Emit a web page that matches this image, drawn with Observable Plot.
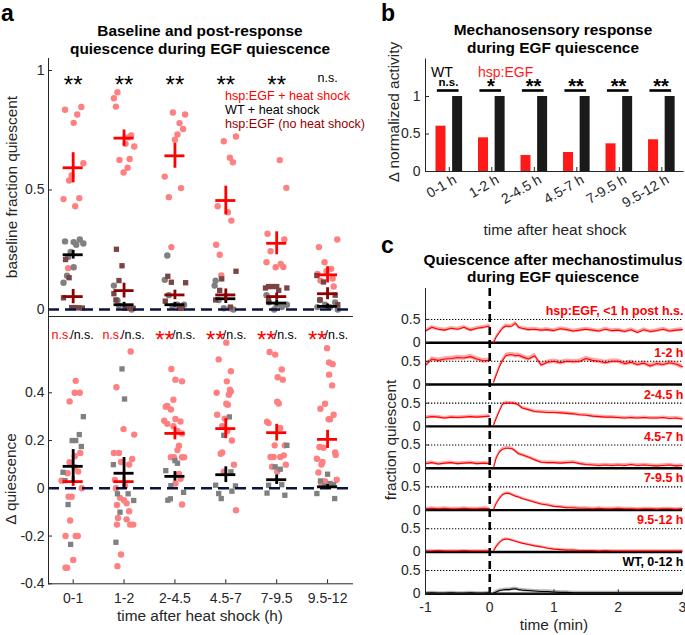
<!DOCTYPE html>
<html><head><meta charset="utf-8">
<script src="https://cdn.jsdelivr.net/npm/d3@7"></script>
<script src="https://cdn.jsdelivr.net/npm/@observablehq/plot@0.6"></script>
<style>
html,body{margin:0;padding:0;background:#fff;}
#fig{position:relative;width:685px;height:635px;overflow:hidden;background:#fff;}
.panel{position:absolute;}
</style></head><body><div id="fig"></div>
<script>
// ---------------- DATA ----------------
const catsA = ["0-1","1-2","2-4.5","4.5-7","7-9.5","9.5-12"];
// panel a (top): baseline fraction quiescent, [jitter, value]
const hspHS_base = [
 [[-0.16,0.836],[0.16,0.847],[0.08,0.816],[0.01,0.781],[0.2,0.612],[-0.03,0.561],[-0.08,0.54],[-0.19,0.462],[0.12,0.466],[0.04,0.432],[-0.1,0.173]],
 [[-0.13,0.909],[-0.2,0.884],[-0.16,0.849],[0.14,0.728],[0.2,0.682],[0.03,0.693],[-0.09,0.626],[0.11,0.63],[0.07,0.593],[-0.01,0.573],[0.08,0.72]],
 [[-0.04,0.824],[0.2,0.816],[0.09,0.78],[0.16,0.755],[0.05,0.732],[0,0.71],[-0.2,0.556],[0.12,0.508],[-0.12,0.47],[-0.07,0.261]],
 [[-0.04,0.704],[0.2,0.724],[0.08,0.635],[0.14,0.616],[-0.16,0.432],[0.04,0.407],[0.11,0.372],[-0.19,0.271],[-0.12,0.229],[-0.09,0.142]],
 [[0.06,0.625],[0.19,0.509],[-0.18,0.317],[0.15,0.293],[-0.12,0.244],[-0.2,0.198],[-0.02,0.177],[0.08,0.191],[0.13,0.178]],
 [[0.19,0.293],[-0.17,0.261],[-0.06,0.198],[0.07,0.17],[-0.14,0.121],[0.12,0.096],[-0.02,0.16],[-0.2,0.149],[0.1,0.13]]
];
const wt_base = [
 [[-0.16,0.285],[0.01,0.282],[0.13,0.293],[0.2,0.276],[0.06,0.271],[-0.05,0.241],[0.01,0.177],[-0.12,0.141],[-0.19,0.112],[-0.1,0.22]],
 [[-0.2,0.1],[-0.13,0.038],[-0.1,0.017],[0.05,0.01],[0.15,0.0]],
 [[-0.15,0.226],[-0.2,0.124],[0.05,0.02],[0.1,0.01],[-0.05,0.015],[0.18,0.02],[-0.12,0.06]],
 [[-0.2,0.121],[-0.22,0.1],[-0.14,0.04],[-0.04,0.005],[0.09,0.005],[0.15,0.0]],
 [[-0.2,0.06],[-0.15,0.03],[0.0,0.02],[0.1,0.01],[0.2,0.02],[-0.05,0.0]],
 [[-0.15,0.04],[-0.05,0.02],[0.05,0.01],[0.15,0.03],[0.2,0.0],[-0.2,0.01]]
];
const noHS_base = [
 [[-0.15,0.209],[-0.08,0.133],[-0.19,0.049],[-0.03,0.008],[0.05,0.008],[0.18,0.006],[0.11,0.007]],
 [[-0.15,0.252],[-0.04,0.183],[-0.1,0.121],[-0.2,0.066],[0.08,0.005],[0.18,0.005],[0.02,0.005],[-0.16,0.04]],
 [[-0.14,0.139],[0.21,0.112],[-0.07,0.114],[-0.19,0.035],[0.09,0.005],[0.14,0.005]],
 [[0.2,0.16],[-0.08,0.128],[-0.2,0.04],[0.09,0.01],[-0.12,0.08]],
 [[-0.16,0.096],[-0.09,0.096],[-0.22,0.09],[0.0,0.096],[0.2,0.09],[0.04,0.08],[-0.16,0.04]],
 [[-0.21,0.142],[-0.08,0.115],[0.15,0.06],[0.2,0.02],[-0.15,0.04]]
];
const hspHS_mean = [0.593,0.717,0.643,0.456,0.277,0.145];
const hspHS_err  = [0.063,0.034,0.052,0.06,0.048,0.034];
const wt_mean    = [0.229,0.02,0.02,0.045,0.027,0.013];
const wt_err     = [0.018,0.01,0.01,0.02,0.012,0.01];
const noHS_mean  = [0.054,0.079,0.061,0.061,0.054,0.066];
const noHS_err   = [0.03,0.031,0.02,0.025,0.015,0.025];
const sigTop = ["**","**","**","**","**","n.s."];

// panel a (bottom): delta quiescence
const hsp_delta = [
 [[0.05,0.45],[-0.07,0.364],[0.03,0.4],[0.13,0.4],[0.14,0.148],[0.03,0.134],[-0.07,0.109],[0.03,0.088],[-0.11,0.063],[0.1,0.07],[-0.23,0.032],[0.17,0.0],[-0.09,-0.035],[-0.03,-0.035],[-0.06,-0.135],[-0.15,-0.2],[0.05,-0.2],[0.09,-0.2],[0,-0.3],[-0.15,-0.333],[-0.12,-0.333]],
 [[0.13,0.573],[-0.15,0.423],[-0.01,0.248],[0.2,0.225],[-0.2,0.148],[-0.1,0.148],[0.16,0.123],[-0.06,0.11],[0.1,0.1],[-0.18,0.035],[0.02,0.01],[-0.16,0.0],[-0.08,-0.04],[0,-0.05],[-0.14,-0.07],[0.05,-0.063],[0.1,-0.096],[-0.12,-0.124],[0.05,-0.13],[0.12,-0.152],[0.18,-0.152],[-0.14,-0.152],[-0.06,-0.277],[-0.13,-0.326]],
 [[-0.07,0.5],[0.14,0.448],[0.01,0.455],[-0.03,0.371],[-0.18,0.342],[-0.15,0.345],[-0.08,0.33],[0.01,0.29],[0.11,0.28],[-0.21,0.283],[-0.15,0.27],[-0.03,0.26],[0.05,0.24],[0.14,0.23],[0.08,0.178],[0.05,0.16],[-0.02,0.13],[-0.08,0.13],[0.14,0.13],[0.18,0.13],[0.08,0.06],[0.11,0.04],[0.01,0.02],[0.14,-0.068]],
 [[0.01,0.61],[-0.14,0.54],[0.1,0.49],[0.02,0.448],[0.08,0.413],[0.1,0.405],[-0.18,0.4],[0.06,0.392],[0.01,0.354],[0.04,0.35],[-0.17,0.308],[-0.02,0.292],[-0.07,0.26],[0.03,0.24],[0.12,0.2],[-0.07,0.15],[-0.1,0.145],[0.16,0.099],[-0.04,0.07],[0.2,-0.092]],
 [[-0.14,0.571],[-0.03,0.56],[0.1,0.498],[0.02,0.465],[0.12,0.455],[0.01,0.363],[0.04,0.355],[-0.19,0.279],[-0.16,0.273],[0.07,0.253],[-0.04,0.18],[0.16,0.18],[0.14,0.138],[-0.12,0.131],[-0.06,0.131],[0.07,0.131],[-0.09,0.09],[0.18,0.099],[0.01,0.07]],
 [[-0.01,0.587],[0.03,0.527],[0.1,0.52],[0.03,0.476],[0.09,0.431],[-0.05,0.354],[-0.14,0.333],[0.12,0.308],[0.02,0.289],[0.05,0.289],[-0.16,0.173],[-0.08,0.17],[0.15,0.15],[0.16,0.14],[-0.21,0.124],[-0.1,0.11],[-0.12,0.1],[-0.18,0.066],[0.18,0.036],[-0.05,0.03],[-0.12,0.02]]
];
const wt_delta = [
 [[0.2,0.3],[0.12,0.225],[-0.02,0.2],[0.05,0.2],[0.16,0.175],[-0.2,0.067],[-0.16,0.032],[-0.1,-0.068],[-0.05,-0.235]],
 [[-0.04,0.5],[0.01,0.374],[-0.21,0.099],[-0.13,-0.023],[0.08,-0.023],[0.19,-0.051],[-0.08,-0.1],[-0.16,-0.226]],
 [[0.0,0.116],[0.05,0.105],[-0.18,0.074],[-0.08,0.011],[0.17,-0.017],[-0.09,-0.044],[-0.14,-0.05]],
 [[0.07,0.299],[-0.04,0.222],[0.1,0.069],[-0.2,0.013],[0.19,0.01],[-0.14,-0.022],[-0.09,-0.043],[0.12,-0.012]],
 [[0.2,0.18],[-0.03,0.09],[0.07,0.08],[-0.16,0.013],[0.1,0.015],[0.16,-0.029],[-0.19,-0.02]],
 [[0.0,0.059],[-0.14,0.031],[-0.21,-0.022],[0.14,-0.043],[-0.05,0.01],[0.05,0.02],[0.12,0.015]]
];
const hspD_mean = [0.028,0.028,0.23,0.25,0.233,0.205];
const hspD_err  = [0.02,0.02,0.027,0.042,0.035,0.038];
const wtD_mean  = [0.092,0.063,0.05,0.057,0.036,0.006];
const wtD_err   = [0.07,0.066,0.02,0.033,0.02,0.01];
const sigBotRed = ["n.s.","n.s.","**","**","**","**"];
const sigBotBlack = ["n.s.","n.s.","n.s.","n.s.","n.s.","n.s."];

// panel b
const catsB = ["0-1 h","1-2 h","2-4.5 h","4.5-7 h","7-9.5 h","9.5-12 h"];
const hspB = [0.604,0.449,0.213,0.253,0.369,0.423];
const wtB  = [1,1,1,1,1,1];
const sigB = ["n.s.","*","**","**","**","**"];

// panel c
const rowLabels = ["hsp:EGF, <1 h post h.s.","1-2 h","2-4.5 h","4.5-7 h","7-9.5 h","9.5-12 h","WT, 0-12 h"];
const preT  = [-1,-0.9,-0.8,-0.7,-0.6,-0.5,-0.4,-0.3,-0.2,-0.1,0];
const postT = [0.06,0.1,0.15,0.2,0.25,0.3,0.35,0.4,0.45,0.5,0.6,0.7,0.8,0.9,1,1.1,1.2,1.3,1.4,1.5,1.6,1.7,1.8,1.9,2,2.1,2.2,2.3,2.4,2.5,2.6,2.7,2.8,2.9,3];
const preC = [
 [0.25,0.33,0.29,0.27,0.31,0.29,0.33,0.27,0.31,0.33,0.36],
 [0.41,0.55,0.52,0.55,0.56,0.58,0.57,0.6,0.55,0.51,0.52],
 [0.19,0.21,0.2,0.18,0.2,0.19,0.2,0.21,0.2,0.21,0.22],
 [0.1,0.12,0.09,0.11,0.12,0.1,0.11,0.12,0.1,0.11,0.1],
 [0.03,0.04,0.03,0.04,0.03,0.03,0.04,0.03,0.03,0.04,0.03],
 [0.02,0.02,0.03,0.02,0.02,0.02,0.03,0.02,0.02,0.02,0.02],
 [0.01,0.02,0.01,0.01,0.02,0.01,0.01,0.02,0.01,0.01,0.02]
];
const postC = [
 [0,0.12,0.22,0.31,0.36,0.35,0.36,0.42,0.33,0.31,0.28,0.29,0.27,0.28,0.26,0.3,0.28,0.25,0.27,0.29,0.27,0.25,0.29,0.26,0.27,0.24,0.28,0.22,0.28,0.24,0.26,0.29,0.25,0.27,0.28],
 [0.05,0.2,0.38,0.52,0.62,0.64,0.64,0.62,0.63,0.6,0.55,0.62,0.42,0.48,0.5,0.47,0.5,0.49,0.5,0.56,0.52,0.5,0.47,0.5,0.5,0.45,0.48,0.43,0.46,0.4,0.45,0.43,0.47,0.44,0.38],
 [0.03,0.17,0.33,0.48,0.5,0.5,0.5,0.49,0.46,0.4,0.36,0.32,0.31,0.3,0.3,0.29,0.28,0.27,0.25,0.24,0.22,0.21,0.2,0.2,0.19,0.18,0.19,0.18,0.19,0.18,0.18,0.19,0.17,0.18,0.16],
 [0.02,0.22,0.35,0.41,0.43,0.43,0.42,0.37,0.31,0.29,0.24,0.18,0.13,0.12,0.12,0.11,0.12,0.13,0.1,0.08,0.07,0.06,0.07,0.06,0.07,0.06,0.08,0.06,0.07,0.06,0.05,0.06,0.07,0.05,0.06],
 [0.02,0.14,0.25,0.33,0.36,0.36,0.33,0.3,0.28,0.25,0.21,0.17,0.13,0.11,0.08,0.07,0.05,0.05,0.04,0.04,0.03,0.04,0.03,0.03,0.04,0.03,0.03,0.02,0.03,0.03,0.02,0.03,0.03,0.02,0.03],
 [0.02,0.12,0.2,0.26,0.28,0.27,0.25,0.23,0.21,0.19,0.16,0.13,0.11,0.08,0.06,0.05,0.04,0.04,0.03,0.03,0.03,0.02,0.03,0.02,0.02,0.02,0.02,0.02,0.02,0.02,0.02,0.02,0.02,0.02,0.02],
 [0.01,0.04,0.07,0.08,0.09,0.09,0.1,0.11,0.09,0.08,0.07,0.06,0.05,0.05,0.04,0.03,0.03,0.02,0.02,0.02,0.02,0.02,0.02,0.02,0.02,0.02,0.02,0.02,0.02,0.02,0.02,0.02,0.02,0.02,0.02]
];
const semC = [0.04,0.05,0.035,0.035,0.03,0.025,0.035];

// ---------------- STYLE / HELPERS ----------------
const FONT = '"Liberation Sans", Arial, Helvetica, sans-serif';
const AX = "#262626";
const RED = "#ff0000";
const LABEL = 15.4;
const style = {fontFamily: FONT, fontSize: "14px", color: AX, background: "none", overflow: "visible", display: "block"};
const fig = document.getElementById("fig");
function place(node, left, top) {
  const d = document.createElement("div");
  d.className = "panel"; d.style.left = left + "px"; d.style.top = top + "px";
  d.appendChild(node); fig.appendChild(d);
}
const pts = groups => groups.flatMap((g, gi) => g.map(([j, v]) => ({x: gi + 1 + j, v})));
const tbl = (m, e) => m.map((v, i) => ({x: i + 1, m: v, e: e[i]}));
const HW = 0.197; // cross half-width (category units)
const cross = (t, color) => [
  Plot.ruleY(t, {y: "m", x1: d => d.x - HW, x2: d => d.x + HW, stroke: color, strokeWidth: 2.8}),
  Plot.ruleX(t, {x: "x", y1: d => d.m - d.e, y2: d => d.m + d.e, stroke: color, strokeWidth: 2.8})
];
const idx = catsA.map((c, i) => i + 1);

// ---------------- PANEL A TOP ----------------
{
  const W = 360, H = 268, ml = 48, mr = 8, mt = 8, mb = 2;
  const FW = W - ml - mr;
  const sigT = sigTop.map((s, i) => ({x: i + 1, s}));
  const p = Plot.plot({
    width: W, height: H, marginLeft: ml, marginRight: mr, marginTop: mt, marginBottom: mb,
    x: {domain: [0.515, 6.49], axis: null},
    y: {domain: [-0.0293, 1.0502]},
    style,
    marks: [
      Plot.dot(pts(hspHS_base), {x: "x", y: "v", r: 3.2, fill: "#ff8080"}),
      Plot.dot(pts(wt_base), {x: "x", y: "v", r: 3.2, fill: "#808080"}),
      Plot.dot(pts(noHS_base), {x: "x", y: "v", r: 3, symbol: "square", fill: "#7a4444"}),
      Plot.ruleY([0], {stroke: "#0b1440", strokeWidth: 2.6, strokeDasharray: "11,6"}),
      ...cross(tbl(hspHS_mean, hspHS_err), RED),
      ...cross(tbl(wt_mean, wt_err), "#000"),
      ...cross(tbl(noHS_mean, noHS_err), "#8b0000"),
      Plot.frame({anchor: "left", stroke: AX}),
      Plot.frame({anchor: "bottom", stroke: AX}),
      Plot.axisY({ticks: [0, 0.5, 1], tickSize: 0, tickPadding: 4, tickFormat: d => String(d), label: null, fontSize: 14}),
      Plot.tickY([0, 0.5, 1], {y: d => d, insetRight: FW - 4, stroke: AX}),
      Plot.text(sigT.filter(d => d.s === "**"), {x: "x", text: "s", frameAnchor: "top", lineAnchor: "middle", dy: 26.5, fontSize: 24, fill: "#000"}),
      Plot.text(sigT.filter(d => d.s !== "**"), {x: "x", text: "s", frameAnchor: "top", lineAnchor: "middle", dy: 19.3, fontSize: 12.5, fill: "#000"})
    ]
  });
  place(p, 0, 50);
}

// ---------------- PANEL A BOTTOM ----------------
{
  const W = 360, H = 325, ml = 48, mr = 8, mt = 6, mb = 51.7;
  const FW = W - ml - mr, FH = H - mt - mb;
  const sigR = sigBotRed.map((s, i) => ({x: i + 1, s}));
  const sigK = sigBotBlack.map((s, i) => ({x: i + 1, s: "/" + s}));
  const p = Plot.plot({
    width: W, height: H, marginLeft: ml, marginRight: mr, marginTop: mt, marginBottom: mb,
    x: {domain: [0.515, 6.49]},
    y: {domain: [-0.4, 0.7196]},
    style,
    marks: [
      Plot.dot(pts(hsp_delta), {x: "x", y: "v", r: 3.2, fill: "#ff8080"}),
      Plot.dot(pts(wt_delta), {x: "x", y: "v", r: 3, symbol: "square", fill: "#808080"}),
      Plot.ruleY([0], {stroke: "#0b1440", strokeWidth: 2.6, strokeDasharray: "11,6"}),
      ...cross(tbl(hspD_mean, hspD_err), RED),
      ...cross(tbl(wtD_mean, wtD_err), "#000"),
      Plot.frame({anchor: "left", stroke: AX}),
      Plot.frame({anchor: "bottom", stroke: AX}),
      Plot.axisY({ticks: [-0.4, -0.2, 0, 0.2, 0.4], tickSize: 0, tickPadding: 4, tickFormat: d => String(d), label: null, fontSize: 14}),
      Plot.tickY([-0.4, -0.2, 0, 0.2, 0.4], {y: d => d, insetRight: FW - 4, stroke: AX}),
      Plot.axisX({ticks: idx, tickSize: 0, tickPadding: 9.5, tickFormat: d => catsA[d - 1], label: null, fontSize: 14}),
      Plot.tickX(idx, {x: d => d, insetTop: FH - 4, stroke: AX}),
      Plot.text(sigR.filter(d => d.s === "**"), {x: "x", text: "s", frameAnchor: "top", lineAnchor: "middle", textAnchor: "end", dx: -1, dy: 23.8, fontSize: 24, fill: RED}),
      Plot.text(sigR.filter(d => d.s !== "**"), {x: "x", text: "s", frameAnchor: "top", lineAnchor: "middle", textAnchor: "end", dx: -1.5, dy: 18.7, fontSize: 12.5, fill: RED}),
      Plot.text(sigK, {x: "x", text: "s", frameAnchor: "top", lineAnchor: "middle", textAnchor: "start", dx: -3, dy: 18.7, fontSize: 12.5, fill: "#000"})
    ]
  });
  place(p, 0, 310);
}

// ---------------- PANEL B ----------------
{
  const W = 305, H = 200, ml = 45, mr = 2.4, mt = 8.5, mb = 79;
  const FW = W - ml - mr, FH = H - mt - mb;
  const tb = catsB.map((c, i) => ({x: i + 1, hsp: hspB[i], wt: wtB[i], sig: sigB[i]}));
  const sigLevel = 1.08;
  const p = Plot.plot({
    width: W, height: H, marginLeft: ml, marginRight: mr, marginTop: mt, marginBottom: mb,
    x: {domain: [0.44, 6.5]},
    y: {domain: [0, 1.5]},
    style,
    marks: [
      Plot.rect(tb, {x1: d => d.x - 0.313, x2: d => d.x - 0.078, y1: 0, y2: "hsp", fill: "#ff1a1a"}),
      Plot.rect(tb, {x1: d => d.x + 0.078, x2: d => d.x + 0.313, y1: 0, y2: "wt", fill: "#1a1a1a"}),
      Plot.ruleY(tb, {y: () => sigLevel, x1: d => d.x - 0.28, x2: d => d.x + 0.23, stroke: "#000", strokeWidth: 2.6}),
      Plot.text(tb.filter(d => d.sig === "n.s."), {x: d => d.x - 0.02, text: "sig", frameAnchor: "top", lineAnchor: "middle", dy: 23.6, fontSize: 11.5, fontWeight: "bold", fill: "#000"}),
      Plot.text(tb.filter(d => d.sig !== "n.s."), {x: d => d.x - 0.02, text: "sig", frameAnchor: "top", lineAnchor: "middle", dy: 27.6, fontSize: 20, fontWeight: "bold", fill: "#000"}),
      Plot.frame({anchor: "left", stroke: AX}),
      Plot.frame({anchor: "bottom", stroke: AX}),
      Plot.axisY({ticks: [0, 0.5, 1], tickSize: 0, tickPadding: 5, tickFormat: d => String(d), label: null, fontSize: 14}),
      Plot.tickY([0, 0.5, 1], {y: d => d, insetRight: FW - 4, stroke: AX}),
      Plot.axisX({ticks: idx, tickSize: 0, tickPadding: 7, tickRotate: -30, dx: 6, tickFormat: d => catsB[d - 1], label: null, fontSize: 14}),
      Plot.tickX(idx, {x: d => d, insetTop: FH - 4, stroke: AX})
    ]
  });
  place(p, 380, 50);
}

// ---------------- PANEL C ----------------
{
  const W = 305, H = 355, ml = 45, mr = 3, mt = 8, mb = 41.7;
  const FW = W - ml - mr, FH = H - mt - mb;
  const rowStep = 0.9;
  const rows = rowLabels.map((l, k) => k);
  const series = rows.flatMap(k => [
    ...preC[k].map((v, i) => ({t: preT[i], v, k, seg: 2 * k})),
    ...postC[k].map((v, i) => ({t: postT[i], v, k, seg: 2 * k + 1}))
  ]);
  const yOf = d => d.v - d.k * rowStep;
  const lo = d => Math.max(0, d.v - semC[d.k]) - d.k * rowStep;
  const hi = d => d.v + semC[d.k] - d.k * rowStep;
  const redS = series.filter(d => d.k < 6), wtS = series.filter(d => d.k === 6);
  const yt = rows.flatMap(k => [-k * rowStep, 0.5 - k * rowStep]);
  const ytl = new Map(rows.flatMap(k => [[-k * rowStep, "0"], [0.5 - k * rowStep, "0.5"]]));
  const p = Plot.plot({
    width: W, height: H, marginLeft: ml, marginRight: mr, marginTop: mt, marginBottom: mb,
    x: {domain: [-1, 3]},
    y: {domain: [-6 * rowStep, 1.165]},
    style,
    marks: [
      Plot.area(redS, {x1: "t", y1: lo, y2: hi, z: "seg", fill: "#ffa6a6"}),
      Plot.area(wtS, {x1: "t", y1: lo, y2: hi, z: "seg", fill: "#b4b4b4"}),
      Plot.ruleY(rows, {y: k => 0.5 - k * rowStep, stroke: "#000", strokeWidth: 1.1, strokeDasharray: "1.3,1.7"}),
      Plot.ruleY(rows, {y: k => -k * rowStep, stroke: "#000", strokeWidth: 2.4}),
      Plot.line(redS, {x: "t", y: yOf, z: "seg", stroke: "#ff0000", strokeWidth: 1.1}),
      Plot.line(wtS, {x: "t", y: yOf, z: "seg", stroke: "#000", strokeWidth: 1.1}),
      Plot.ruleX([0], {stroke: "#000", strokeWidth: 2.6, strokeDasharray: "8,5"}),
      Plot.frame({anchor: "left", stroke: AX}),
      Plot.frame({anchor: "bottom", stroke: AX}),
      Plot.axisY({ticks: yt, tickSize: 0, tickPadding: 5, tickFormat: d => ytl.get(d), label: null, fontSize: 14}),
      Plot.tickY(yt, {y: d => d, insetRight: FW - 4, stroke: AX}),
      Plot.axisX({ticks: [-1, 0, 1, 2, 3], tickSize: 0, tickPadding: 8.7, tickFormat: d => String(d), label: null, fontSize: 14}),
      Plot.tickX([-1, 0, 1, 2, 3], {x: d => d, insetTop: FH - 4, stroke: AX}),
      Plot.text(rowLabels.map((l, k) => ({l, k})), {y: d => 0.68 - d.k * rowStep, text: "l", frameAnchor: "right", textAnchor: "end", lineAnchor: "middle", dx: 1, fontSize: 12.5, fontWeight: "bold", fill: d => d.k < 6 ? RED : "#000"})
    ]
  });
  place(p, 380, 280);
}

// ---------------- OVERLAY TEXT ----------------
const ov = d3.select(fig).append("svg").attr("width", 685).attr("height", 635)
  .style("position", "absolute").style("left", "0px").style("top", "0px")
  .style("font-family", FONT).style("pointer-events", "none");
function T(x, y, s, o = {}) {
  const t = ov.append("text").attr("x", x).attr("y", y).text(s)
    .attr("font-size", o.size || LABEL).attr("text-anchor", o.anchor || "start").attr("fill", o.fill || "#000");
  if (o.bold) t.attr("font-weight", "bold");
  if (o.rot) t.attr("transform", `rotate(${o.rot},${x},${y})`);
  return t;
}
T(1, 21, "a", {size: 23, bold: true});
T(381, 21, "b", {size: 23, bold: true});
T(381, 253, "c", {size: 23, bold: true});
T(200, 36, "Baseline and post-response", {size: 15.4, bold: true, anchor: "middle"});
T(200, 54.3, "quiescence during EGF quiescence", {size: 15.4, bold: true, anchor: "middle"});
T(553, 35, "Mechanosensory response", {size: 15.4, bold: true, anchor: "middle"});
T(553, 53.3, "during EGF quiescence", {size: 15.4, bold: true, anchor: "middle"});
T(553, 265, "Quiescence after mechanostimulus", {size: 15.4, bold: true, anchor: "middle"});
T(553, 282.3, "during EGF quiescence", {size: 15.4, bold: true, anchor: "middle"});
T(16.5, 187, "baseline fraction quiescent", {rot: -90, anchor: "middle", fill: AX});
T(16, 479, "Δ quiescence", {rot: -90, anchor: "middle", fill: AX});
T(200, 621, "time after heat shock (h)", {anchor: "middle", fill: AX});
T(225, 99.5, "hsp:EGF + heat shock", {size: 12.6, fill: "#ff0000"});
T(225, 114, "WT + heat shock", {size: 12.6, fill: "#000"});
T(225, 128.3, "hsp:EGF (no heat shock)", {size: 12.6, fill: "#990000"});
T(398.5, 112, "Δ normalized activity", {rot: -90, anchor: "middle", fill: AX});
T(555, 235, "time after heat shock", {anchor: "middle", fill: AX});
T(431, 77.3, "WT", {size: 14, fill: "#000"});
T(478, 77.3, "hsp:EGF", {size: 14, fill: "#ff1a1a"});
T(395.5, 440, "fraction quiescent", {rot: -90, anchor: "middle", fill: AX});
T(554, 629.5, "time (min)", {anchor: "middle", fill: AX});
</script></body></html>
